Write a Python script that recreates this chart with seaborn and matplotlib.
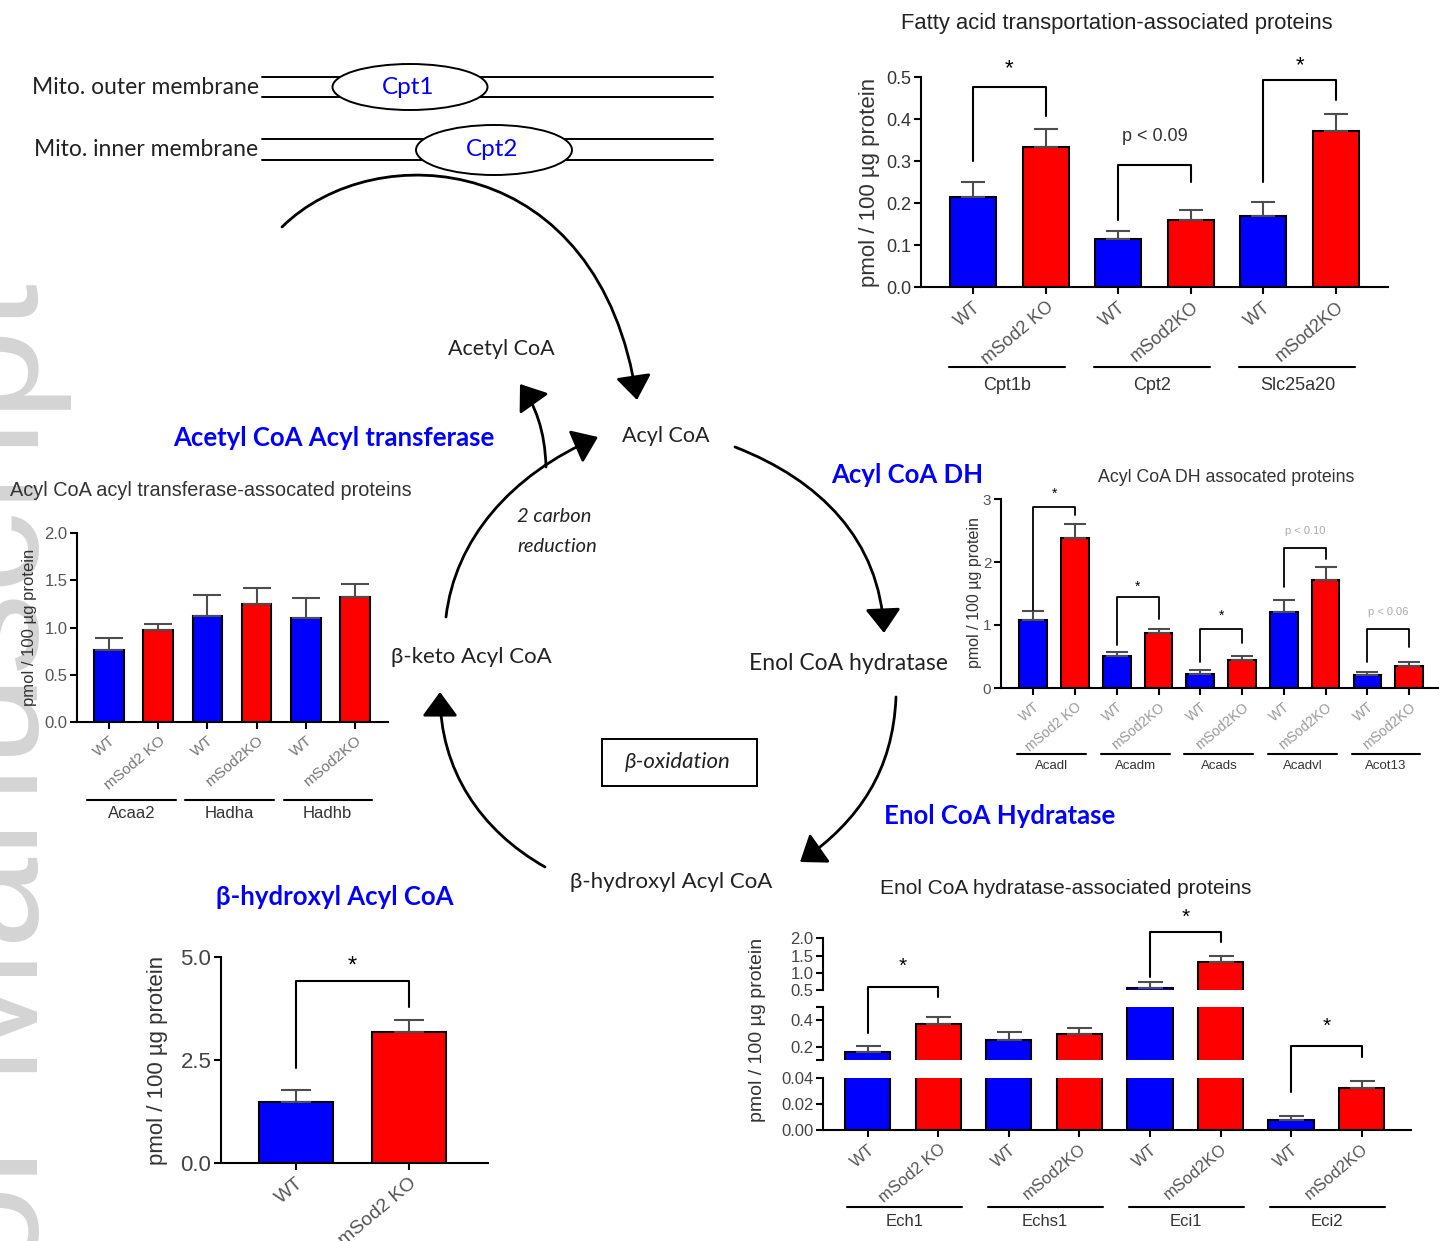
import numpy as np
import pandas as pd
import matplotlib
matplotlib.use("Agg")
import matplotlib.pyplot as plt
import seaborn as sns
from matplotlib.patches import Ellipse, Rectangle, FancyArrowPatch
from matplotlib.path import Path

# =========================
# data (pmol / 100 ug protein, mean and SEM)
# =========================
fa_genes = ["Cpt1b", "Cpt2", "Slc25a20"]
fa_wt = [0.214, 0.114, 0.170]
fa_wt_err = [0.037, 0.019, 0.032]
fa_ko = [0.333, 0.160, 0.371]
fa_ko_err = [0.043, 0.024, 0.042]
fa_labels = ["WT", "mSod2 KO", "WT", "mSod2KO", "WT", "mSod2KO"]

dh_genes = ["Acadl", "Acadm", "Acads", "Acadvl", "Acot13"]
dh_wt = [1.08, 0.51, 0.23, 1.21, 0.20]
dh_wt_err = [0.15, 0.06, 0.05, 0.19, 0.05]
dh_ko = [2.38, 0.87, 0.45, 1.72, 0.35]
dh_ko_err = [0.22, 0.06, 0.06, 0.20, 0.07]
dh_labels = ["WT", "mSod2 KO"] + ["WT", "mSod2KO"] * 4

at_genes = ["Acaa2", "Hadha", "Hadhb"]
at_wt = [0.76, 1.125, 1.10]
at_wt_err = [0.13, 0.22, 0.21]
at_ko = [0.97, 1.25, 1.32]
at_ko_err = [0.07, 0.165, 0.14]
at_labels = ["WT", "mSod2 KO", "WT", "mSod2KO", "WT", "mSod2KO"]

bh_genes = ["Hadh"]
bh_wt = [1.48]
bh_wt_err = [0.28]
bh_ko = [3.18]
bh_ko_err = [0.30]
bh_labels = ["WT", "mSod2 KO"]

eh_genes = ["Ech1", "Echs1", "Eci1", "Eci2"]
eh_wt = [0.16, 0.25, 0.57, 0.0076]
eh_wt_err = [0.045, 0.058, 0.16, 0.0031]
eh_ko = [0.37, 0.295, 1.32, 0.0318]
eh_ko_err = [0.055, 0.043, 0.17, 0.0057]
eh_labels = ["WT", "mSod2 KO"] + ["WT", "mSod2KO"] * 3

sns.set_theme(style="ticks")
plt.rcParams["font.family"] = ["Liberation Sans", "DejaVu Sans"]

W, H = 1439, 1241
BLUE, RED = "#0000ff", "#ff0000"
PALETTE = {"WT": BLUE, "KO": RED}
ERR = "#4d4d4d"
DIAG = ["Lato", "DejaVu Sans"]

fig = plt.figure(figsize=(W / 100, H / 100), dpi=100)
fig.patch.set_facecolor("white")

# background axes in pixel units for the pathway drawing
bg = fig.add_axes([0, 0, 1, 1])
bg.set_xlim(0, W)
bg.set_ylim(H, 0)
bg.axis("off")


def px_axes(box):
    l, t, r, b = box
    ax = fig.add_axes([l / W, 1 - b / H, (r - l) / W, (b - t) / H])
    ax.set_facecolor("none")
    return ax


def make_frame(genes, wt, ko):
    rows = []
    for g, w, k in zip(genes, wt, ko):
        rows.append((f"{g} WT", w, "WT"))
        rows.append((f"{g} KO", k, "KO"))
    return pd.DataFrame(rows, columns=["bar", "value", "genotype"])


def draw_bars(ax, df, errs, width, cap):
    sns.barplot(data=df, x="bar", y="value", hue="genotype",
                order=list(df["bar"]), hue_order=["WT", "KO"], palette=PALETTE,
                dodge=False, width=width, saturation=1, edgecolor="black",
                linewidth=1.5, errorbar=None, legend=False, ax=ax)
    x = np.arange(len(df))
    ax.errorbar(x, df["value"], yerr=[np.zeros(len(df)), errs], fmt="none",
                ecolor=ERR, elinewidth=1.5, capsize=cap, capthick=1.5)
    ax.set_xlabel("")
    ax.set_ylabel("")


def style(ax, yfs, ycol):
    sns.despine(ax=ax)
    for s in ["left", "bottom"]:
        ax.spines[s].set_linewidth(1.5)
        ax.spines[s].set_color("black")
    ax.tick_params(axis="both", direction="out", length=5, width=1.5, color="black")
    ax.tick_params(axis="y", labelsize=yfs, labelcolor=ycol, pad=2)


def xlabels(ax, labels, fs, col):
    ax.set_xticks(np.arange(len(labels)))
    ax.set_xticklabels(labels, rotation=40, ha="right", rotation_mode="anchor",
                       fontsize=fs, color=col)


def groups(ax, box, genes, y_line, y_text, span, fs, col):
    l, t, r, b = box
    trans = ax.get_xaxis_transform()
    yl = (b - y_line) / (b - t)
    yt = (b - y_text) / (b - t)
    for i, g in enumerate(genes):
        x0, x1 = 2 * i + span[0], 2 * i + span[1]
        ax.plot([x0, x1], [yl, yl], transform=trans, color="black", lw=1.5, clip_on=False)
        ax.text((x0 + x1) / 2, yt, g, transform=trans, ha="center", va="center",
                fontsize=fs, color=col)


def bracket(ax, i, top, left, right, label, label_y, fs, col="black", lw=1.5):
    x0, x1 = 2 * i, 2 * i + 1
    ax.plot([x0, x0, x1, x1], [left, top, top, right], color="black", lw=lw, clip_on=False)
    ax.text((x0 + x1) / 2, label_y, label, ha="center", va="center", fontsize=fs,
            color=col, clip_on=False)


def interleave(a, b):
    return np.ravel(np.column_stack([a, b]))


# =========================
# watermark and pathway drawing
# =========================
bg.text(38, 283, "Author Manuscript", rotation=90, rotation_mode="anchor",
        ha="right", va="baseline", fontsize=118, color="#d4d4d4", zorder=0)

for y in [77, 97, 139, 160]:
    bg.plot([262, 713], [y, y], color="black", lw=1.4)
bg.add_patch(Ellipse((410, 87), 155, 46, facecolor="white", edgecolor="black", lw=1.4, zorder=3))
bg.add_patch(Ellipse((494, 150), 156, 50, facecolor="white", edgecolor="black", lw=1.4, zorder=3))
bg.text(408, 88, "Cpt1", color=BLUE, fontsize=17.5, ha="center", va="center", family=DIAG, zorder=4)
bg.text(492, 150, "Cpt2", color=BLUE, fontsize=17.5, ha="center", va="center", family=DIAG, zorder=4)
bg.text(32, 88, "Mito. outer membrane", fontsize=16.5, ha="left", va="center", family=DIAG, color="#222222")
bg.text(34, 149, "Mito. inner membrane", fontsize=16.5, ha="left", va="center", family=DIAG, color="#222222")


def curved_arrow(p0, p1, p2, p3):
    path = Path([p0, p1, p2, p3], [Path.MOVETO, Path.CURVE4, Path.CURVE4, Path.CURVE4])
    bg.add_patch(FancyArrowPatch(path=path, arrowstyle="-|>,head_length=15,head_width=11",
                                 mutation_scale=1, lw=2, color="black", zorder=5))


curved_arrow((282, 227), (375, 135), (600, 150), (637, 400))
curved_arrow((735, 447), (820, 480), (880, 540), (884, 633))
curved_arrow((896, 697), (893, 770), (860, 820), (800, 862))
curved_arrow((545, 867), (480, 830), (440, 770), (440, 692))
curved_arrow((446, 617), (455, 540), (510, 475), (598, 437))
curved_arrow((546, 467), (545, 430), (535, 405), (520, 384))

for x, y, s, fs in [(501, 349, "Acetyl CoA", 15.5), (666, 436, "Acyl CoA", 15.5),
                    (848, 664, "Enol CoA hydratase", 16.5), (471, 657, "β-keto Acyl CoA", 16),
                    (671, 882, "β-hydroxyl Acyl CoA", 16)]:
    bg.text(x, y, s, fontsize=fs, ha="center", va="center", family=DIAG, color="#222222")
bg.text(517, 517, "2 carbon", fontsize=14.5, style="italic", ha="left", va="center", family=DIAG, color="#222222")
bg.text(517, 547, "reduction", fontsize=14.5, style="italic", ha="left", va="center", family=DIAG, color="#222222")
bg.add_patch(Rectangle((602, 739), 155, 47, facecolor="white", edgecolor="black", lw=1.4))
bg.text(678, 762, "β-oxidation", fontsize=16, style="italic", ha="center", va="center", family=DIAG, color="#222222")

for x, y, s in [(334, 438, "Acetyl CoA Acyl transferase"), (907, 475, "Acyl CoA DH"),
                (1000, 816, "Enol CoA Hydratase"), (335, 897, "β-hydroxyl Acyl CoA")]:
    bg.text(x, y, s, fontsize=18.5, weight="bold", color=BLUE, ha="center", va="center", family=DIAG)

# =========================
# Fatty acid transportation
# =========================
FA_BOX = (921, 77, 1388, 287)
ax = px_axes(FA_BOX)
draw_bars(ax, make_frame(fa_genes, fa_wt, fa_ko), interleave(fa_wt_err, fa_ko_err), 0.64, 8.5)
ax.set_xlim(-0.72, 5.72)
ax.set_ylim(0, 0.5)
ax.set_yticks(np.arange(0, 0.51, 0.1), [f"{v:.1f}" for v in np.arange(0, 0.51, 0.1)])
style(ax, 13, "#333333")
xlabels(ax, fa_labels, 13, "#555555")
groups(ax, FA_BOX, fa_genes, 367, 385, (-0.33, 1.27), 13, "#333333")
bracket(ax, 0, 0.476, 0.299, 0.406, "*", 0.52, 16)
bracket(ax, 1, 0.290, 0.159, 0.249, "p < 0.09", 0.359, 13, "#333333")
bracket(ax, 2, 0.494, 0.249, 0.446, "*", 0.528, 16)
bg.text(1117, 23, "Fatty acid transportation-associated proteins", fontsize=15.8,
        ha="center", va="center", color="#222222")
bg.text(870, 182, "pmol / 100 µg protein", fontsize=16, rotation=90,
        ha="center", va="center", color="#333333")

# =========================
# Acyl CoA DH
# =========================
DH_BOX = (1001, 499, 1438, 688)
ax = px_axes(DH_BOX)
draw_bars(ax, make_frame(dh_genes, dh_wt, dh_ko), interleave(dh_wt_err, dh_ko_err), 0.66, 8)
ax.set_xlim(-0.77, 9.69)
ax.set_ylim(0, 3)
ax.set_yticks([0, 1, 2, 3], ["0", "1", "2", "3"])
style(ax, 11, "#555555")
xlabels(ax, dh_labels, 10, "#999999")
groups(ax, DH_BOX, dh_genes, 754, 766, (-0.38, 1.27), 9.5, "#333333")
bracket(ax, 0, 2.88, 1.24, 2.75, "*", 3.08, 10, lw=1.3)
bracket(ax, 1, 1.44, 0.69, 1.10, "*", 1.60, 10, lw=1.3)
bracket(ax, 2, 0.93, 0.42, 0.72, "*", 1.14, 10, lw=1.3)
bracket(ax, 3, 2.23, 1.61, 2.05, "p < 0.10", 2.49, 8, "#aaaaaa", lw=1.3)
bracket(ax, 4, 0.93, 0.42, 0.65, "p < 0.06", 1.20, 8, "#aaaaaa", lw=1.3)
bg.text(1226, 477, "Acyl CoA DH assocated proteins", fontsize=12.8,
        ha="center", va="center", color="#333333")
bg.text(975, 593, "pmol / 100 µg protein", fontsize=11.5, rotation=90,
        ha="center", va="center", color="#333333")

# =========================
# Acyl CoA acyl transferase
# =========================
AT_BOX = (77, 533, 388, 722)
ax = px_axes(AT_BOX)
draw_bars(ax, make_frame(at_genes, at_wt, at_ko), interleave(at_wt_err, at_ko_err), 0.61, 10)
ax.set_xlim(-0.66, 5.68)
ax.set_ylim(0, 2)
ax.set_yticks(np.arange(0, 2.01, 0.5), [f"{v:.1f}" for v in np.arange(0, 2.01, 0.5)])
style(ax, 12, "#555555")
xlabels(ax, at_labels, 11, "#777777")
groups(ax, AT_BOX, at_genes, 800, 814, (-0.45, 1.35), 12, "#333333")
bg.text(211, 491, "Acyl CoA acyl transferase-assocated proteins", fontsize=14.3,
        ha="center", va="center", color="#333333")
bg.text(30, 627, "pmol / 100 µg protein", fontsize=12, rotation=90,
        ha="center", va="center", color="#333333")

# =========================
# beta-hydroxyl Acyl CoA
# =========================
BH_BOX = (221, 957, 488, 1163)
ax = px_axes(BH_BOX)
draw_bars(ax, make_frame(bh_genes, bh_wt, bh_ko), interleave(bh_wt_err, bh_ko_err), 0.65, 11)
ax.set_xlim(-0.66, 1.695)
ax.set_ylim(0, 5)
ax.set_yticks([0, 2.5, 5], ["0.0", "2.5", "5.0"])
style(ax, 16, "#444444")
xlabels(ax, bh_labels, 14, "#555555")
bracket(ax, 0, 4.41, 2.31, 3.79, "*", 4.78, 17)
bg.text(158, 1060, "pmol / 100 µg protein", fontsize=16, rotation=90,
        ha="center", va="center", color="#333333")

# =========================
# Enol CoA hydratase (broken axis)
# =========================
eh_df = make_frame(eh_genes, eh_wt, eh_ko)
eh_err = interleave(eh_wt_err, eh_ko_err)
EH_TOP = (823, 938.3, 1411, 990)
EH_MID = (823, 1006.7, 1411, 1060)
EH_BOT = (823, 1077.7, 1411, 1130)
segs = []
for box, lim in [(EH_TOP, (0.5, 2.0)), (EH_MID, (0.1, 0.5)), (EH_BOT, (0, 0.04))]:
    ax = px_axes(box)
    draw_bars(ax, eh_df, eh_err, 0.64, 9)
    ax.set_xlim(-0.635, 7.70)
    ax.set_ylim(*lim)
    style(ax, 12, "#444444")
    segs.append(ax)
ax_t, ax_m, ax_b = segs
ax_t.set_yticks([0.5, 1.0, 1.5, 2.0], ["0.5", "1.0", "1.5", "2.0"])
ax_m.set_yticks([0.1, 0.2, 0.4, 0.5], ["", "0.2", "0.4", ""])
ax_b.set_yticks([0, 0.02, 0.04], ["0.00", "0.02", "0.04"])
for a in [ax_t, ax_m]:
    a.spines["bottom"].set_visible(False)
    a.tick_params(axis="x", bottom=False, labelbottom=False)
xlabels(ax_b, eh_labels, 12, "#555555")
groups(ax_b, EH_BOT, eh_genes, 1207, 1222, (-0.3, 1.33), 12, "#333333")
bracket(ax_m, 0, 0.645, 0.30, 0.57, "*", 0.80, 15)
bracket(ax_t, 2, 2.194, 0.887, 1.904, "*", 2.62, 15)
bracket(ax_b, 3, 0.0645, 0.0293, 0.0560, "*", 0.0795, 15)
bg.text(1066, 889, "Enol CoA hydratase-associated proteins", fontsize=15,
        ha="center", va="center", color="#222222")
bg.text(758, 1030, "pmol / 100 µg protein", fontsize=14, rotation=90,
        ha="center", va="center", color="#333333")

fig.savefig("out.png", dpi=100)
